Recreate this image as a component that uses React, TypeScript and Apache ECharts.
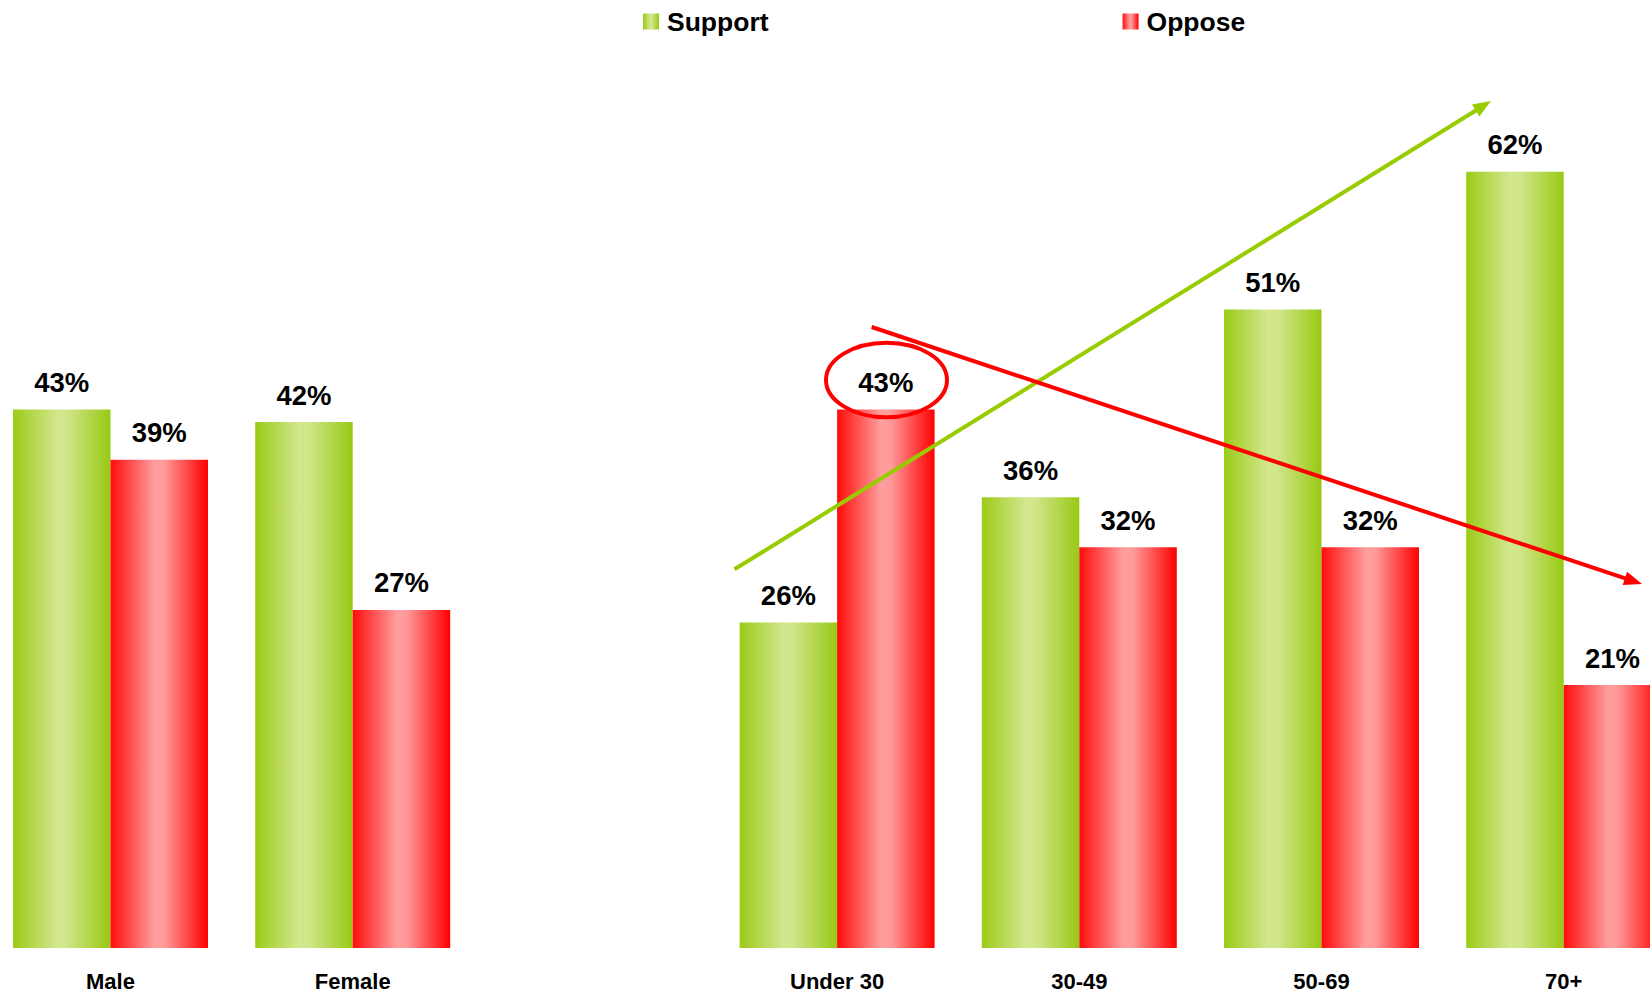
import React, { useEffect, useRef } from "react";
import * as echarts from "echarts";

const categories = ["Male", "Female", "", "Under 30", "30-49", "50-69", "70+"];
const supportValues = [43, 42, null, 26, 36, 51, 62];
const opposeValues = [39, 27, null, 43, 32, 32, 21];
const seriesNames = ["Support", "Oppose"];

const FONT = "'Liberation Sans', Arial, Helvetica, sans-serif";

const greenGrad = new echarts.graphic.LinearGradient(0, 0, 1, 0, [
  { offset: 0, color: "#9BCB17" },
  { offset: 0.45, color: "#D3E78E" },
  { offset: 0.55, color: "#D0E689" },
  { offset: 1, color: "#98C914" },
]);
const redGrad = new echarts.graphic.LinearGradient(0, 0, 1, 0, [
  { offset: 0, color: "#FF0C0C" },
  { offset: 0.45, color: "#FF9D9D" },
  { offset: 0.55, color: "#FF9A9A" },
  { offset: 1, color: "#FF0000" },
]);

export default function App() {
  const ref = useRef<HTMLDivElement>(null);
  useEffect(() => {
    document.body.style.margin = "0";
    const chart = echarts.init(ref.current!, null, { renderer: "svg" });
    const labelCfg = {
      show: true,
      position: "top",
      distance: 13,
      formatter: "{c}%",
      color: "#000",
      fontFamily: FONT,
      fontWeight: "bold",
      fontSize: 27.5,
    };
    chart.setOption({
      animation: false,
      backgroundColor: "#fff",
      legend: {
        left: 643,
        top: 8,
        padding: 0,
        itemWidth: 16,
        itemHeight: 16,
        itemGap: 354,
        icon: "rect",
        textStyle: {
          fontFamily: FONT,
          fontWeight: "bold",
          fontSize: 26.5,
          color: "#000",
          padding: [0, 0, 0, 3],
        },
        data: seriesNames,
      },
      grid: {
        left: -10.6,
        right: -34.8,
        top: 71.5,
        bottom: 45,
        containLabel: false,
        outerBoundsMode: "none",
      },
      xAxis: {
        type: "category",
        data: categories,
        axisLine: { show: false },
        axisTick: { show: false },
        axisLabel: {
          margin: 22,
          color: "#000",
          fontFamily: FONT,
          fontWeight: "bold",
          fontSize: 22,
          interval: 0,
        },
      },
      yAxis: {
        type: "value",
        min: 0,
        max: 70,
        show: false,
        splitLine: { show: false },
      },
      series: [
        {
          name: seriesNames[0],
          type: "bar",
          data: supportValues,
          barGap: "0%",
          barCategoryGap: "19.5%",
          itemStyle: { color: greenGrad },
          label: labelCfg,
        },
        {
          name: seriesNames[1],
          type: "bar",
          data: opposeValues,
          barGap: "0%",
          barCategoryGap: "19.5%",
          itemStyle: { color: redGrad },
          label: labelCfg,
        },
      ],
      graphic: [
        {
          type: "line",
          z: 100,
          shape: { x1: 734.5, y1: 569.3, x2: 1477, y2: 109.7 },
          style: { stroke: "#99CC00", lineWidth: 4 },
        },
        {
          type: "polygon",
          z: 100,
          shape: { points: [[1491, 101], [1479.4, 116.5], [1472.0, 104.5]] },
          style: { fill: "#99CC00" },
        },
        {
          type: "line",
          z: 100,
          shape: { x1: 871.7, y1: 327, x2: 1626, y2: 578.7 },
          style: { stroke: "#FF0000", lineWidth: 4 },
        },
        {
          type: "polygon",
          z: 100,
          shape: { points: [[1642, 584], [1622.7, 584.9], [1627.1, 571.7]] },
          style: { fill: "#FF0000" },
        },
        {
          type: "ellipse",
          z: 100,
          shape: { cx: 886.5, cy: 380, rx: 60.5, ry: 37.3 },
          style: { fill: "none", stroke: "#FF0000", lineWidth: 4 },
        },
      ],
    });
    return () => chart.dispose();
  }, []);
  return <div ref={ref} style={{ width: 1650, height: 993 }} />;
}
